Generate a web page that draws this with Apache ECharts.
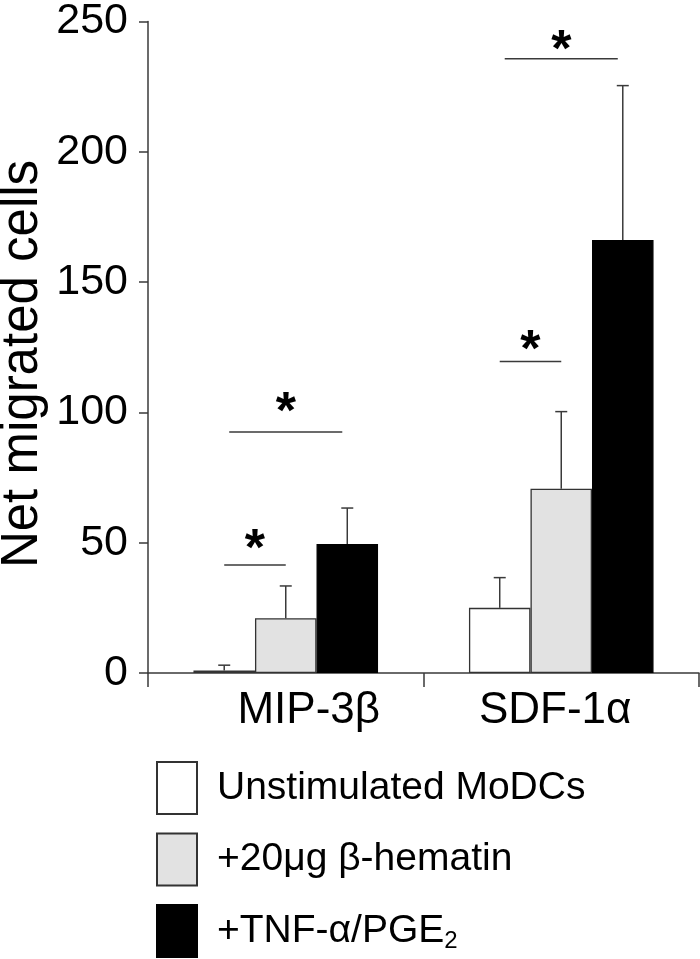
<!DOCTYPE html>
<html>
<head>
<meta charset="utf-8">
<script src="https://cdn.jsdelivr.net/npm/echarts@6/dist/echarts.min.js"></script>
<style>html,body{margin:0;padding:0;background:#fff}#c{width:700px;height:959px}</style>
</head>
<body>
<div id="c"></div>
<script>
// ---- data ----
const categories = ['MIP-3β', 'SDF-1α'];
const seriesNames = ['Unstimulated MoDCs', '+20μg β-hematin', '+TNF-α/PGE₂'];
const unstimulated = [1, 25];
const hematin = [21, 70.7];
const tnfPge = [49.5, 166.2];
// upper end of error bars (mean + SEM)
const unstimulatedErrTop = [3.0, 36.6];
const hematinErrTop = [33.4, 100.3];
const tnfPgeErrTop = [63.3, 225.4];
const yTicks = [0, 50, 100, 150, 200, 250];
// significance brackets
const sigCategory = [0, 0, 1, 1];
const sigFrom = [0, 0, 0, 0];
const sigTo = [1, 2, 1, 2];
const sigLineValue = [41.4, 92.5, 119.5, 235.7];
const sigStarValue = [51, 103.6, 127.5, 242.5];
const sigLabel = ['*', '*', '*', '*'];

// ---- build ----
const values = [unstimulated, hematin, tnfPge];
const errTops = [unstimulatedErrTop, hematinErrTop, tnfPgeErrTop];
const fills = ['#ffffff', '#e2e2e2', '#000000'];
const borders = ['#333333', '#333333', '#000000'];
const CAT_GAP = 0.33;
const FONT = '"Liberation Sans", Arial, Helvetica, sans-serif';
const LINE = '#3a3a3a';
// label shift (style): first label shifted right, second slightly left
const labelStyles = ['c0', 'c1'];

const errData = [];
values.forEach((arr, s) => arr.forEach((v, c) => errData.push([c, s, errTops[s][c], v])));
const sigData = sigCategory.map((c, i) => [c, sigFrom[i], sigTo[i], sigLineValue[i], sigStarValue[i], sigLabel[i]]);

function barCenter(api, cat, idx) {
  const cx = api.coord([cat, 0])[0];
  const bw = api.size([1, 0])[0] * (1 - CAT_GAP) / 3;
  return cx + (idx - 1) * bw;
}

const chart = echarts.init(document.getElementById('c'), null, {renderer: 'canvas'});
const barSeries = values.map((arr, s) => ({
  name: seriesNames[s],
  type: 'bar',
  data: arr,
  barGap: '0%',
  barCategoryGap: (CAT_GAP * 100) + '%',
  itemStyle: {color: fills[s], borderColor: borders[s], borderWidth: 1.3},
  emphasis: {disabled: true},
  z: 2
}));

const legends = seriesNames.map((n, i) => ({
  data: [n],
  orient: 'vertical',
  left: 156, top: 761 + i * 71.5,
  padding: 0,
  itemWidth: 40, itemHeight: 52,
  icon: 'rect',
  selectedMode: false,
  formatter: name => name.replace('₂', '{sub|2}'),
  textStyle: {
    fontSize: 39, color: '#000', fontFamily: FONT, padding: [0, 0, 0, 15],
    rich: {sub: {fontSize: 24, fontFamily: FONT, color: '#000', padding: [20, 0, 0, 0]}}
  }
}));

chart.setOption({
  animation: false,
  backgroundColor: '#ffffff',
  grid: {left: 148, right: 1, top: 16, bottom: 286, containLabel: false},
  xAxis: {
    type: 'category',
    data: categories,
    axisLine: {lineStyle: {color: LINE, width: 1.5}},
    axisTick: {show: true, length: 14, interval: 0, lineStyle: {color: LINE, width: 1.5}},
    axisLabel: {
      interval: 0,
      hideOverlap: false,
      fontSize: 44, color: '#000', fontFamily: FONT, margin: 16,
      formatter: (v, i) => '{' + labelStyles[i] + '|' + v + '}',
      rich: {
        c0: {fontSize: 44, fontFamily: FONT, color: '#000', padding: [0, 0, 0, 46]},
        c1: {fontSize: 44, fontFamily: FONT, color: '#000', padding: [0, 12, 0, 0]}
      }
    }
  },
  yAxis: {
    type: 'value',
    min: yTicks[0], max: yTicks[yTicks.length - 1], interval: yTicks[1] - yTicks[0],
    axisLine: {show: true, lineStyle: {color: LINE, width: 1.5}},
    axisTick: {show: true, length: 9, lineStyle: {color: LINE, width: 1.5}},
    axisLabel: {fontSize: 43, color: '#000', fontFamily: FONT, margin: 20},
    splitLine: {show: false}
  },
  legend: legends,
  graphic: [{
    type: 'text',
    x: 23, y: 364,
    rotation: Math.PI / 2,
    style: {text: 'Net migrated cells', fontSize: 51, fontFamily: FONT, fill: '#000', align: 'center', verticalAlign: 'middle'}
  }],
  series: barSeries.concat([
    {
      type: 'custom',
      name: 'err',
      data: errData,
      encode: {x: 0, y: 2},
      clip: false,
      z: 3,
      renderItem: function (params, api) {
        const cat = api.value(0), s = api.value(1);
        const x = barCenter(api, cat, s);
        const yTop = api.coord([cat, api.value(2)])[1];
        const yBar = api.coord([cat, api.value(3)])[1];
        const st = {stroke: LINE, lineWidth: 1.5};
        return {type: 'group', children: [
          {type: 'line', shape: {x1: x, y1: yBar, x2: x, y2: yTop}, style: st},
          {type: 'line', shape: {x1: x - 6, y1: yTop, x2: x + 6, y2: yTop}, style: st}
        ]};
      }
    },
    {
      type: 'custom',
      name: 'sig',
      data: sigData,
      encode: {x: 0, y: 3},
      clip: false,
      z: 3,
      renderItem: function (params, api) {
        const cat = api.value(0), a = api.value(1), b = api.value(2);
        const inset = (b - a) > 1 ? 5 : 0;
        const x1 = barCenter(api, cat, a) + inset;
        const x2 = barCenter(api, cat, b) - inset;
        const y = api.coord([cat, api.value(3)])[1];
        const ys = api.coord([cat, api.value(4)])[1];
        return {type: 'group', children: [
          {type: 'line', shape: {x1: x1, y1: y, x2: x2, y2: y}, style: {stroke: LINE, lineWidth: 1.5}},
          {type: 'text', x: (x1 + x2) / 2, y: ys + 11,
           style: {text: sigData[params.dataIndex][5], fontSize: 52, fontWeight: 'bold', fontFamily: FONT, fill: '#000', align: 'center', verticalAlign: 'middle'}}
        ]};
      }
    }
  ])
});
</script>
</body>
</html>
